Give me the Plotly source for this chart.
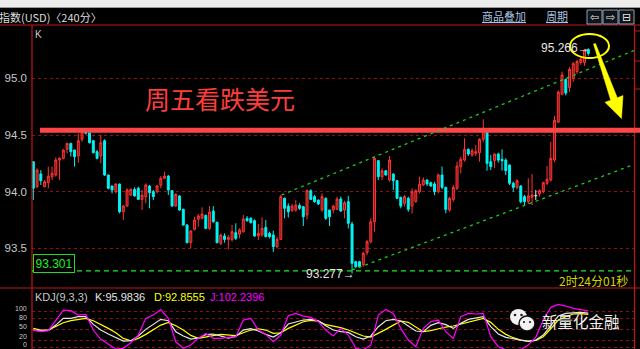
import plotly.graph_objects as go

W, H = 640, 349

# ---------------- data ----------------
opens = [94.265, 94.044, 94.156, 94.044, 94.079, 94.132, 94.147, 94.279, 94.294, 94.374,
         94.426, 94.368, 94.315, 94.462, 94.535, 94.520, 94.450, 94.353, 94.315, 94.450,
         94.147, 94.050, 94.000, 94.067, 93.823, 93.873, 93.970, 94.020, 94.030, 93.932,
         93.956, 94.050, 94.000, 94.000, 94.059, 94.118, 94.138, 94.009, 93.873, 93.962,
         93.844, 93.706, 93.550, 93.668, 93.756, 93.765, 93.791, 93.676, 93.829, 93.730,
         93.544, 93.609, 93.579, 93.579, 93.638, 93.626, 93.647, 93.765, 93.765, 93.744,
         93.609, 93.618, 93.685, 93.632, 93.618, 93.515, 93.579, 93.941, 93.873, 93.832,
         93.838, 93.879, 93.868, 93.794, 94.009, 93.956, 93.926, 93.838, 93.941, 93.838,
         93.838, 93.844, 93.935, 93.838, 93.912, 93.715, 93.382, 93.382, 93.353, 93.462,
         93.559, 93.735, 94.274, 94.132, 94.185, 94.103, 94.156, 94.097, 93.950, 93.897,
         93.941, 93.873, 93.912, 94.000, 94.059, 94.103, 94.079, 94.068, 94.000, 94.147,
         94.038, 93.838, 93.932, 94.030, 94.221, 94.279, 94.374, 94.324, 94.338, 94.344,
         94.462, 94.529, 94.265, 94.274, 94.332, 94.285, 94.279, 94.235, 94.074, 94.038,
         94.050, 93.956, 93.912, 93.950, 93.965, 93.980, 94.000, 94.074, 94.103, 94.280,
         94.614, 94.860, 94.990, 94.920, 95.000, 95.060, 95.140, 95.140, 95.255]
highs = [94.270, 94.206, 94.191, 94.103, 94.221, 94.221, 94.303, 94.303, 94.374, 94.432,
         94.432, 94.368, 94.515, 94.535, 94.545, 94.529, 94.456, 94.368, 94.500, 94.462,
         94.150, 94.055, 94.073, 94.073, 93.882, 94.030, 94.030, 94.038, 94.044, 94.015,
         94.074, 94.059, 94.015, 94.059, 94.138, 94.176, 94.147, 94.015, 93.985, 93.970,
         93.850, 93.715, 93.662, 93.779, 93.803, 93.862, 93.797, 93.873, 93.873, 93.735,
         93.632, 93.632, 93.618, 93.706, 93.721, 93.676, 93.794, 93.785, 93.774, 93.756,
         93.715, 93.774, 93.750, 93.647, 93.656, 93.603, 93.971, 93.950, 93.897, 93.891,
         93.926, 93.897, 93.873, 94.021, 94.021, 93.971, 93.932, 93.985, 93.950, 93.841,
         93.882, 93.956, 93.956, 93.920, 93.962, 93.735, 93.391, 93.391, 93.470, 93.573,
         93.765, 94.309, 94.279, 94.206, 94.191, 94.315, 94.162, 94.103, 93.956, 93.971,
         93.956, 94.030, 94.021, 94.132, 94.127, 94.109, 94.088, 94.088, 94.162, 94.221,
         94.044, 93.956, 94.059, 94.265, 94.309, 94.471, 94.382, 94.382, 94.412, 94.471,
         94.638, 94.535, 94.324, 94.338, 94.344, 94.374, 94.294, 94.240, 94.088, 94.109,
         94.059, 93.971, 94.118, 94.156, 94.015, 94.021, 94.088, 94.226, 94.441, 94.670,
         94.894, 95.060, 95.000, 95.100, 95.145, 95.160, 95.180, 95.260, 95.266]
lows = [93.926, 94.030, 94.059, 94.038, 94.030, 94.103, 94.132, 94.103, 94.285, 94.338,
        94.309, 94.221, 94.256, 94.441, 94.505, 94.426, 94.338, 94.285, 94.250, 94.138,
        94.020, 93.985, 93.985, 93.809, 93.750, 93.868, 93.965, 93.956, 93.926, 93.838,
        93.897, 93.853, 93.926, 93.985, 94.030, 94.109, 93.970, 93.868, 93.868, 93.832,
        93.700, 93.544, 93.500, 93.656, 93.691, 93.756, 93.670, 93.662, 93.726, 93.544,
        93.529, 93.550, 93.491, 93.559, 93.573, 93.588, 93.638, 93.735, 93.721, 93.603,
        93.573, 93.603, 93.597, 93.588, 93.468, 93.500, 93.573, 93.765, 93.773, 93.823,
        93.823, 93.838, 93.697, 93.756, 93.926, 93.903, 93.882, 93.823, 93.750, 93.697,
        93.809, 93.838, 93.823, 93.765, 93.676, 93.277, 93.324, 93.330, 93.338, 93.441,
        93.544, 93.647, 94.103, 94.103, 94.141, 94.088, 94.015, 93.935, 93.853, 93.868,
        93.823, 93.809, 93.903, 93.985, 94.050, 94.050, 94.044, 93.970, 93.985, 94.020,
        93.809, 93.823, 93.912, 94.015, 94.162, 94.265, 94.315, 94.309, 94.315, 94.265,
        94.441, 94.185, 94.191, 94.206, 94.256, 94.185, 94.147, 94.059, 94.000, 94.020,
        93.897, 93.882, 93.891, 93.882, 93.926, 93.956, 93.985, 94.059, 94.088, 94.260,
        94.605, 94.850, 94.850, 94.880, 94.970, 95.040, 95.120, 95.110, 95.200]
closes = [94.030, 94.191, 94.097, 94.088, 94.138, 94.162, 94.279, 94.294, 94.368, 94.426,
          94.353, 94.309, 94.450, 94.529, 94.515, 94.432, 94.344, 94.294, 94.432, 94.147,
          94.030, 94.015, 94.067, 93.823, 93.873, 94.015, 94.020, 93.962, 93.932, 93.970,
          94.059, 93.991, 93.956, 94.050, 94.118, 94.138, 94.015, 93.873, 93.976, 93.838,
          93.706, 93.550, 93.653, 93.750, 93.785, 93.803, 93.676, 93.820, 93.735, 93.550,
          93.618, 93.579, 93.597, 93.647, 93.588, 93.662, 93.759, 93.744, 93.726, 93.609,
          93.632, 93.676, 93.603, 93.603, 93.515, 93.579, 93.956, 93.853, 93.823, 93.873,
          93.882, 93.853, 93.779, 94.009, 93.932, 93.912, 93.891, 93.956, 93.765, 93.779,
          93.873, 93.935, 93.829, 93.903, 93.721, 93.368, 93.338, 93.338, 93.456, 93.559,
          93.735, 94.294, 94.132, 94.185, 94.147, 94.279, 94.097, 93.941, 93.873, 93.956,
          93.844, 94.000, 94.009, 94.068, 94.103, 94.068, 94.050, 94.000, 94.147, 94.038,
          93.844, 93.941, 94.038, 94.226, 94.285, 94.374, 94.332, 94.362, 94.353, 94.462,
          94.529, 94.250, 94.221, 94.332, 94.279, 94.274, 94.185, 94.074, 94.038, 94.097,
          93.912, 93.912, 93.962, 93.971, 93.965, 94.009, 94.079, 94.109, 94.294, 94.630,
          94.879, 95.030, 94.870, 95.080, 95.130, 95.150, 95.170, 95.250, 95.220]
candle_idx = list(range(len(opens)))

kdj_idx = list(range(0, 149, 2))
kdj_k = [49.4, 46.7, 48.5, 63, 81.6, 81.6, 86.2, 86.2, 65, 49.4,
         38.4, 28.3, 19, 20, 33, 51.3, 66, 78.9, 75.2, 44.8,
         33, 24.6, 27.4, 36.6, 38.4, 33, 27.4, 32, 49.4, 53,
         46.7, 37.5, 30, 42, 66, 71.5, 77, 78.9, 75, 61.4,
         49.4, 44.8, 43, 31, 24.6, 33, 58.6, 75.2, 78.9, 74.3,
         61.4, 46.7, 44.8, 62.3, 69.7, 64.2, 54, 67.8, 78.9, 81.6,
         86.2, 58.6, 38.4, 29.2, 24.6, 21.8, 19, 21.8, 35.6, 60.5,
         88, 95.4, 97.2, 98, 95.9836]
kdj_d = [54, 49.4, 49.4, 58.6, 69.7, 75.2, 78.9, 81.6, 75.2, 65,
         54, 42, 26.4, 20, 26.4, 37.5, 49.4, 63, 70.6, 61.4,
         49.4, 34.7, 26.4, 29.2, 33.8, 37.5, 34.7, 33.8, 42, 49.4,
         53, 49.4, 40.2, 42, 54, 63, 72.4, 76, 74, 64.2,
         60.5, 55.9, 49.4, 42, 33, 30, 40.2, 51.3, 63, 74.3,
         70.6, 56.8, 44.8, 47.6, 53, 57.7, 60.5, 66, 71.5, 77,
         81.6, 70.6, 51.3, 37.5, 28.3, 21.8, 18.2, 21, 31, 53,
         77, 86.2, 93.6, 94.5, 92.8555]
kdj_j = [49.4, 44.8, 47.6, 77, 104.6, 103, 90.8, 92.6, 49.4, 23.7,
         10.8, -3, -1, 14.5, 35.6, 81.6, 90.8, 106, 81.6, 17,
         -1, 8, 26.4, 40, 26.4, 26.4, 29, 31, 77, 81.6,
         49.4, 37.5, 17, 35.6, 89, 95.4, 88, 84.4, 72.4, 49.4,
         33, 54, 35.6, -1, -5, 8, 90.8, 106, 95.4, 54,
         21.8, 3.4, 54, 72.4, 77, 44.8, 26.4, 86.2, 95.4, 93.6,
         95.4, 31, 3.4, -5, -5, -4, 8, 30, 77, 112,
         120, 115.6, 109, 106, 102.2396]

price_ticks = [93.5, 94.0, 94.5, 95.0]
price_ticktext = ["93.5", "94.0", "94.5", "95.0"]
kdj_ticks = [0, 20, 50, 80, 100]
kdj_ticktext = ["0", "20", "50", "80", "100"]

resistance_level = 94.543
support_level = 93.301
low_mark = "93.277"
high_mark = "95.266"
channel_upper_x = [66.2, 160.2]
channel_upper_y = [93.971, 95.246]
channel_lower_x = [85.0, 160.2]
channel_lower_y = [93.309, 94.240]

# ---------------- helpers ----------------
def px(x):
    return x / W

def py(y):
    return 1 - y / H

RED_AX = "#c81414"
GRID = "#8a1212"
GREEN = "#22e622"
CJK = "Noto Sans CJK SC"
NUM = "Liberation Sans"

fig = go.Figure()

doji = [i for i in candle_idx if opens[i] == closes[i]]
norm = [i for i in candle_idx if opens[i] != closes[i]]

fig.add_trace(go.Candlestick(
    x=[candle_idx[i] for i in norm],
    open=[opens[i] for i in norm], high=[highs[i] for i in norm],
    low=[lows[i] for i in norm], close=[closes[i] for i in norm],
    increasing=dict(line=dict(color="#ff3434", width=1), fillcolor="#8a1616"),
    decreasing=dict(line=dict(color="#00f4f4", width=1), fillcolor="#00f4f4"),
    xaxis="x", yaxis="y", hoverinfo="skip", showlegend=False))

dx, dy = [], []
for i in doji:
    dx += [candle_idx[i], candle_idx[i], None, candle_idx[i] - 0.38, candle_idx[i] + 0.38, None]
    dy += [lows[i], highs[i], None, opens[i], closes[i], None]
fig.add_trace(go.Scatter(x=dx, y=dy, mode="lines", line=dict(color="#f0f0f0", width=1),
                         xaxis="x", yaxis="y", hoverinfo="skip", showlegend=False))

for vals, col in [(kdj_d, "#ffff00"), (kdj_k, "#e6e6e6"), (kdj_j, "#ff00ff")]:
    fig.add_trace(go.Scatter(x=kdj_idx, y=vals, mode="lines",
                             line=dict(color=col, width=1.2),
                             xaxis="x2", yaxis="y2", hoverinfo="skip", showlegend=False))

main_dom = [(H - 288) / H, (H - 25) / H]
kdj_dom = [0, (H - 288) / H]
x_dom = [32 / W, 634 / W]
x_range = [-0.35, 160.19]
kdj_range = [-2.9, 165.4]

axis_x = dict(domain=x_dom, range=x_range, showgrid=False, zeroline=False,
              showticklabels=False, showline=False, ticks="", fixedrange=True)

fig.update_layout(
    width=W, height=H, margin=dict(l=0, r=0, t=0, b=0),
    paper_bgcolor="black", plot_bgcolor="black", showlegend=False,
    hovermode=False, boxgap=0.25,
    xaxis=dict(anchor="y", rangeslider=dict(visible=False), **axis_x),
    xaxis2=dict(anchor="y2", **axis_x),
    yaxis=dict(anchor="x", domain=main_dom, range=[93.150, 95.471],
               tickvals=price_ticks, ticktext=price_ticktext,
               tickfont=dict(family=NUM, size=11.5, color="#c8c8c8"),
               showgrid=True, gridcolor=GRID, griddash="dot", gridwidth=1,
               zeroline=False, showline=False, ticks="", ticklabelstandoff=4),
    yaxis2=dict(anchor="x2", domain=kdj_dom, range=kdj_range,
                tickvals=kdj_ticks, showticklabels=False,
                showgrid=True, gridcolor=GRID, griddash="dot", gridwidth=1,
                zeroline=False, showline=False, ticks=""),
)

shapes = []
# top grey strip
shapes.append(dict(type="rect", xref="paper", yref="paper", x0=0, x1=1, y0=py(7), y1=1,
                   fillcolor="#ececec", line=dict(width=0), layer="above"))
shapes.append(dict(type="line", xref="paper", yref="paper", x0=0, x1=1, y0=py(7.5), y1=py(7.5),
                   line=dict(color="#9a9a9a", width=1)))
# frame lines
for y in (25, 288):
    shapes.append(dict(type="line", xref="paper", yref="paper", x0=0, x1=1, y0=py(y), y1=py(y),
                       line=dict(color=RED_AX, width=1.2)))
for x in (32, 634.5):
    shapes.append(dict(type="line", xref="paper", yref="paper", x0=px(x), x1=px(x),
                       y0=py(25), y1=0, line=dict(color=RED_AX, width=1.2)))
for y in (31, 61, 89):
    shapes.append(dict(type="line", xref="paper", yref="paper", x0=px(634.5), x1=px(640),
                       y0=py(y), y1=py(y), line=dict(color=RED_AX, width=1)))
# resistance line
shapes.append(dict(type="line", xref="paper", yref="y", x0=px(40), x1=1,
                   y0=resistance_level, y1=resistance_level,
                   line=dict(color="#ff4646", width=5)))
# support dashed
shapes.append(dict(type="line", xref="paper", yref="y", x0=px(32), x1=px(633),
                   y0=support_level, y1=support_level,
                   line=dict(color=GREEN, width=1.3, dash="5px,4px")))
# channel lines
shapes.append(dict(type="line", xref="x", yref="y", x0=channel_upper_x[0], x1=channel_upper_x[1],
                   y0=channel_upper_y[0], y1=channel_upper_y[1],
                   line=dict(color="#1ec81e", width=1.3, dash="3px,4px")))
shapes.append(dict(type="line", xref="x", yref="y", x0=channel_lower_x[0], x1=channel_lower_x[1],
                   y0=channel_lower_y[0], y1=channel_lower_y[1],
                   line=dict(color="#1ec81e", width=1.3, dash="3px,4px")))
# yellow ellipse
shapes.append(dict(type="circle", xref="paper", yref="paper", x0=px(570), x1=px(609),
                   y0=py(58), y1=py(34), line=dict(color="#ffff00", width=2)))
# yellow tapered arrow
pts = [(593.5, 44), (610.7, 100.2), (605.0, 102.3), (621.5, 118.5), (623.0, 95.5),
       (617.3, 97.8), (595.5, 43.5)]
path = "M " + " L ".join(f"{px(x):.5f},{py(y):.5f}" for x, y in pts) + " Z"
shapes.append(dict(type="path", xref="paper", yref="paper", path=path,
                   fillcolor="#ffff00", line=dict(color="#ffff00", width=0.5)))
# header buttons
for x0 in (587, 603, 619):
    shapes.append(dict(type="rect", xref="paper", yref="paper", x0=px(x0), x1=px(x0 + 15),
                       y0=py(24), y1=py(10), fillcolor="#101418",
                       line=dict(color="#8aa0b8", width=1)))
# WeChat-like icon
shapes.append(dict(type="circle", xref="paper", yref="paper", x0=px(510), x1=px(527),
                   y0=py(325), y1=py(309), fillcolor="#f2f2f2", line=dict(width=0)))
shapes.append(dict(type="circle", xref="paper", yref="paper", x0=px(519), x1=px(535),
                   y0=py(331), y1=py(316), fillcolor="#f2f2f2", line=dict(color="#101010", width=1.5)))
for (cx, cy, r) in [(515, 315, 1.3), (521.5, 315, 1.3), (524, 322, 1.1), (530, 322, 1.1)]:
    shapes.append(dict(type="circle", xref="paper", yref="paper", x0=px(cx - r), x1=px(cx + r),
                       y0=py(cy + r), y1=py(cy - r), fillcolor="#202020", line=dict(width=0)))

fig.update_layout(shapes=shapes)

ann = []
def A(text, x, y, size, color, xanchor="left", family=NUM, pad=1):
    ann.append(dict(text=text, x=px(x), y=py(y), xref="paper", yref="paper",
                    xanchor=xanchor, yanchor="middle", showarrow=False, borderpad=pad,
                    font=dict(family=family, size=size, color=color)))

# KDJ axis labels: the panel is tiny, so labels are spaced evenly near their grid lines
kdj_label_y = {100: 308.0, 80: 317.2, 50: 326.9, 20: 336.3, 0: 344.6}
for v, t in zip(kdj_ticks, kdj_ticktext):
    A(t, 28, kdj_label_y[v], 7, "#c8c8c8", xanchor="right", pad=0)

A("指数(USD)〈240分〉", -3, 16.5, 11, "#dcdcdc", family=CJK)
ann.append(dict(text="商品叠加", x=px(480), y=py(16), xref="paper", yref="paper",
                xanchor="left", yanchor="middle", showarrow=False,
                font=dict(family=CJK, size=11, color="#a8c4e4", lineposition="under")))
ann.append(dict(text="周期", x=px(544), y=py(16), xref="paper", yref="paper",
                xanchor="left", yanchor="middle", showarrow=False,
                font=dict(family=CJK, size=11, color="#a8c4e4", lineposition="under")))
A("⇦", 594.5, 17, 11, "#e8e8e8", xanchor="center", family="DejaVu Sans")
A("⇨", 610.5, 17, 11, "#e8e8e8", xanchor="center", family="DejaVu Sans")
A("⊟", 626.5, 17, 11, "#e8e8e8", xanchor="center", family="DejaVu Sans")
A("K", 33, 34, 10, "#c8c8c8")
A("周五看跌美元", 220, 98, 25, "#ff3c3c", xanchor="center", family=CJK)
A(high_mark + "→", 539, 47.5, 12, "#e6e6e6")
A(low_mark + "→", 304, 273.5, 12, "#e6e6e6")
ann.append(dict(text=f"{support_level:.3f}", x=px(32.5), y=py(263), xref="paper", yref="paper",
                xanchor="left", yanchor="middle", showarrow=False,
                bordercolor="#22dd22", borderwidth=1, borderpad=1.5, bgcolor="black",
                font=dict(family=NUM, size=12, color="#22ee22")))
A("2时24分01秒", 557, 280, 12, "#d4d400", family=CJK)
A("KDJ(9,3,3)", 33, 296.5, 11, "#c8c8c8")
A(f"K:{kdj_k[-1]:.4f}", 93, 296.5, 11, "#e6e6e6")
A(f"D:{kdj_d[-1]:.4f}", 152, 296.5, 11, "#ffff00")
A(f"J:{kdj_j[-1]:.4f}", 208, 296.5, 11, "#ff00ff")
A("新量化金融", 540, 321, 15.5, "#f0f0f0", family=CJK)

fig.update_layout(annotations=ann)

fig.write_html("out.html")
